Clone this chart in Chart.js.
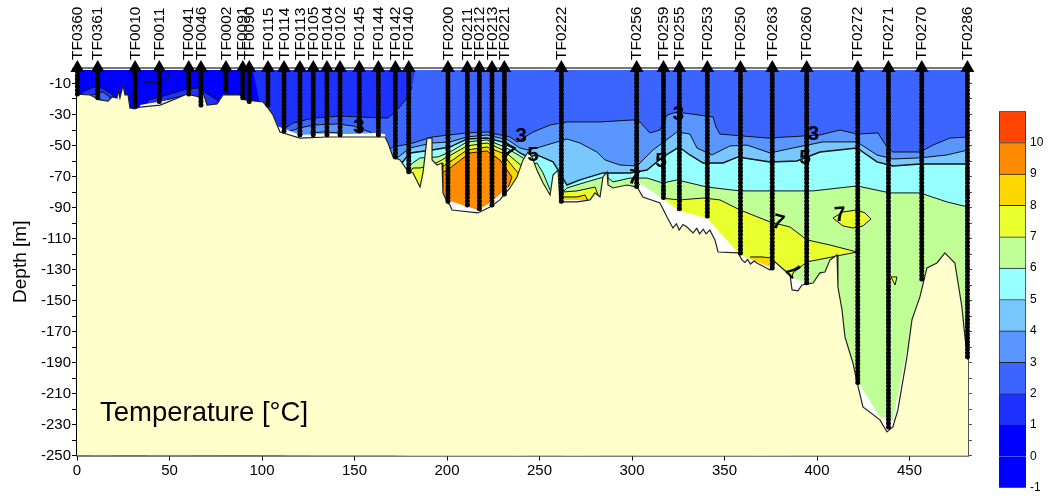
<!DOCTYPE html>
<html>
<head>
<meta charset="utf-8">
<title>Temperature section</title>
<script src="https://cdn.jsdelivr.net/npm/chart.js@4"></script>
<style>
  html, body { margin: 0; padding: 0; background: #fff; overflow: hidden; }
  #wrap { position: relative; width: 1050px; height: 499px; }
  #section { position: absolute; left: 0; top: 0; }
  #colorbar { position: absolute; left: 990px; top: 100px; }
</style>
</head>
<body>
<div id="wrap">
  <canvas id="section" width="1050" height="499"></canvas>
  <canvas id="colorbar" width="60" height="399"></canvas>
</div>
<script>
const stationNames = ['TF0360','TF0361','TF0010','TF0011','TF0041','TF0046','TF0002','TF0091','TF0090','TF0115','TF0114','TF0113','TF0105','TF0104','TF0102','TF0145','TF0144','TF0142','TF0140','TF0200','TF0211','TF0212','TF0213','TF0221','TF0222','TF0256','TF0259','TF0255','TF0253','TF0250','TF0263','TF0260','TF0272','TF0271','TF0270','TF0286'];
const stationX = [0.2,11.2,31.4,44.5,60.4,67,80.5,89.6,93.1,103.2,111.9,120.5,127.7,135.1,142.2,152.6,162.9,172.1,179.3,200.5,211,217.5,224.3,231,261.8,302.5,317,325.6,340.7,358.6,375.8,394.4,422,438.6,456.6,481.3];
const stationBottom = [-16.8,-19.4,-25.8,-21.9,-16.8,-24.5,-15.5,-19.4,-21.9,-25.8,-40.6,-44.5,-43.2,-43.2,-43.2,-41.9,-43.2,-57.4,-67.1,-86.4,-90.3,-92.9,-89.7,-81.9,-86.4,-76.8,-85.1,-91.6,-96.1,-120.6,-130.3,-138.7,-203,-233.5,-138,-187];

// temperature class colours, from -1..0 up to 10..11
const classColors = ['#0000ff','#0000ff','#1e32ff','#3c64ff','#5a96ff','#78c8ff','#96ffff','#c0ff96','#eaff2e','#ffd700','#ff8c00','#ff4500'];
const classTicks = [-1,0,1,2,3,4,5,6,7,8,9,10];

const seabed = [[0,-16.8],[7,-17.4],[10.3,-19.4],[12.4,-20.6],[16.8,-21.3],[18.9,-18.7],[21.6,-19.4],[22.2,-14.2],[23.2,-19.4],[24.9,-11],[25.9,-17.4],[27.6,-17.4],[28.6,-25.8],[31.3,-26.4],[34.1,-25.2],[44.9,-23.9],[51.9,-20.6],[59.5,-16.8],[66.5,-18.7],[68.1,-15.5],[70.3,-23.9],[75.7,-23.2],[78.9,-17.4],[88.1,-17.4],[90.8,-20.6],[100.5,-21.9],[103.2,-25.8],[105.9,-30.3],[109.7,-41.3],[120.5,-45.2],[135.1,-44.5],[149.2,-44.5],[161.1,-44.5],[166.5,-44.5],[168.1,-48.4],[170.8,-57.4],[174.6,-59.3],[178.4,-65.8],[181.6,-67.7],[185.4,-76.8],[187,-67.7],[189.2,-45.2],[191.9,-45.2],[191.9,-59.3],[194.6,-62.6],[197.3,-61.3],[197.8,-80.6],[200,-86.4],[201.6,-88.4],[202.7,-91.6],[216.7,-93.5],[223.2,-89.7],[228.6,-85.1],[234,-77.4],[237.8,-70.3],[241.1,-59.3],[243.8,-54.2],[245.9,-57.4],[248.6,-65.8],[251.9,-74.2],[255.7,-81.9],[257.3,-69],[260,-65.8],[261,-86.4],[270.3,-86.4],[277.3,-85.1],[280,-80.6],[282.7,-83.2],[284.3,-70.3],[286.5,-67.1],[287,-75.5],[289.7,-77.4],[297.3,-75.5],[302.7,-76.8],[305.9,-83.2],[315.1,-87.1],[318.9,-96.1],[322.1,-103.2],[324,-100.5],[325.5,-104.5],[327.5,-101],[329.7,-102.6],[333,-106.4],[335,-103.5],[336.5,-107],[338.5,-104],[340,-107],[342.1,-104.5],[344.8,-110.9],[346.5,-118.7],[357.3,-119.3],[359.4,-123.8],[361,-125.5],[362.5,-123.5],[364,-126.5],[366,-124.5],[367.5,-125.8],[374.6,-130.3],[377.3,-125.1],[381,-129],[385.4,-133.5],[386.5,-143.2],[389.7,-143.8],[391.9,-140],[397.8,-138.7],[401.6,-132.2],[404.3,-131.6],[407,-123.8],[410.8,-120.6],[411.3,-141.3],[413.5,-156.1],[415.1,-173.5],[419.4,-190.3],[421.6,-202.5],[424.8,-218.7],[434,-227],[437.8,-234.8],[441,-231.6],[443.7,-220.6],[448.6,-186.4],[451.3,-162.5],[455.6,-147.7],[459.4,-129],[464.8,-125.8],[469.1,-119.3],[474.5,-125.8],[478.3,-154.2],[480,-174.2],[481.6,-188.3]];

// lower limit of the gridded field, white shows between this and the seabed
const dataFloor = [[0,-40],[33,-40],[34.1,-23.9],[55.7,-19.4],[59.5,-27.1],[104.3,-36.8],[109.7,-38.1],[120.5,-43.2],[135.1,-42.6],[149.2,-42.6],[161.1,-41.9],[166.5,-42.6],[169.2,-65.8],[200,-94.8],[201.6,-85.8],[216.7,-91.6],[223.2,-87.1],[231.3,-78.7],[235.7,-74.2],[238.4,-85.1],[303.2,-85.1],[304.3,-74.2],[325.9,-92.2],[340.5,-96.8],[358.4,-120.6],[374.6,-128.4],[385.4,-134.8],[394.6,-138.7],[401.6,-149.6],[423.2,-204.5],[434,-225.1],[441,-227],[448.6,-181.9],[451.3,-181.9],[481.6,-201.2]];

// isotherms, each is the top of the next warmer class
const surface1 = [[98.4,-20.6],[95.1,-1.3],[481.6,-1.3]];
const iso2 = [[110.8,-40],[116.8,-35.5],[127.6,-32.3],[142.2,-31],[153,-31.6],[168.1,-32.3],[173,-27.1],[178.9,-18.7],[181.1,-12.3]];
const surface2 = [[182.7,-1.3],[481.6,-1.3]];
const iso3 = [[113.5,-41.3],[120.5,-38.7],[127.6,-36.8],[140.5,-36.1],[149.2,-37.4],[158.4,-41.3],[163.8,-46.4],[168.1,-52.9],[170.8,-51],[181.6,-48.4],[191.9,-44.5],[210.8,-41.9],[221.6,-41.3],[234,-44.5],[237.8,-47.7],[246.5,-41.3],[255.7,-36.8],[264.8,-34.8],[282.7,-34.8],[300.5,-33.5],[304.3,-34.8],[309.7,-41.9],[315.1,-40],[318.9,-30.3],[324.3,-28.4],[343.8,-31.6],[345.4,-38.1],[347.5,-42.6],[360,-43.9],[373.5,-45.2],[392.4,-43.9],[401.6,-43.2],[412.4,-40],[421.6,-42.6],[432.9,-41.9],[437.8,-51],[441,-54.2],[455.6,-54.2],[462.7,-49.7],[471.8,-45.2],[481.6,-44.5]];
const iso4 = [[125.9,-41.9],[133,-41.3],[142.2,-41.9],[147.6,-45.2],[169.2,-62.6],[173,-58],[180,-51.6],[191.9,-48.4],[201.6,-47.7],[210.8,-44.5],[221.6,-43.2],[233,-46.4],[239.4,-51.6],[243.8,-52.9],[250.2,-51],[264.8,-45.8],[271.9,-48.4],[281,-54.2],[285.4,-59.3],[293.5,-62.6],[302.7,-63.2],[311.3,-52.9],[324.3,-41.3],[331.3,-42.6],[335.1,-51.6],[343.2,-56.1],[352.9,-50.3],[362.1,-49.7],[374.6,-54.8],[387,-51.6],[403.2,-47.7],[421.6,-47.7],[432.4,-56.1],[441,-58.7],[455.6,-58],[470.2,-56.1],[481.6,-52.9]];
const iso5 = [[172,-67.1],[174.6,-62.6],[180,-54.8],[191.9,-52.9],[201.6,-51],[210.8,-45.8],[221.6,-45.2],[232.4,-48.4],[239.4,-54.8],[243.8,-57.4],[248.6,-56.1],[257.3,-60.6],[261,-67.7],[264.8,-75.5],[271.9,-72.2],[284.3,-67.7],[298.9,-67.7],[308.1,-65.8],[316.7,-57.4],[325.4,-51],[331.3,-56.1],[338.4,-61.3],[349.2,-61.3],[357.3,-57.4],[374.6,-60.6],[389.1,-60],[401.6,-54.2],[421.6,-51.6],[432.4,-60.6],[441,-63.2],[455.6,-61.9],[481.6,-61.9]];
const iso6 = [[176.2,-67.1],[180,-62.6],[185.4,-58],[195.1,-57.4],[201.6,-54.2],[210.8,-47.7],[221.6,-46.4],[231.3,-51],[241.1,-58],[244.9,-62.6],[248.6,-61.3],[251.9,-67.7],[255.7,-78.7],[261,-81.9],[264.8,-77.4],[271.9,-74.8],[282.7,-71],[286.5,-70.3],[289.7,-73.5],[298.9,-71],[308.1,-71],[316.7,-74.2],[324.3,-72.2],[340.5,-76.8],[358.4,-79.3],[374.6,-79.3],[397.8,-79.3],[421.6,-76.1],[439.4,-80.6],[455.6,-80.6],[470.2,-86.4],[481.6,-89.7]];
const iso7West = [[178.9,-69],[181.6,-64.5],[185.4,-64.5],[191.9,-62.6],[197.3,-59.3],[210.8,-50.3],[221.6,-48.4],[230.3,-52.9],[238.4,-61.3],[241.1,-63.9],[243.8,-69]];
const iso7Dip = [[262.7,-80],[270.3,-79.3],[280,-76.8],[282.7,-85.1]];
const iso7East = [[302.7,-73.5],[304.3,-75.5],[315.1,-83.9],[325.9,-85.1],[338.4,-83.9],[347.5,-85.1],[358.4,-91.6],[374.6,-99.3],[385.4,-102.6],[394.6,-110.9],[407,-114.2],[421.6,-118.7],[410.8,-121.3],[394.6,-125.1],[387,-132.2],[385.4,-143.2]];
const iso7Lens = [[408.6,-96.8],[414,-92.9],[421.6,-91.6],[425.9,-93.5],[429.2,-97.4],[424.8,-101.9],[419.4,-103.2],[414,-101.9],[408.6,-96.8]];
const iso7Speck = [[440,-134.8],[443.2,-134.8],[442.2,-140],[440,-134.8]];
const iso8West = [[197.3,-63.9],[201.6,-60.6],[210.8,-52.9],[221.6,-51],[229.7,-54.8],[235.7,-63.9],[238.4,-67.7],[240.5,-78.7]];
const iso8Dip = [[262.7,-83.2],[270.3,-83.2],[274.6,-81.9],[277.3,-88.4]];
const iso8East = [[363.8,-121.9],[370.2,-121.9],[375.1,-122.6],[375.7,-130.3]];
const iso9 = [[197.3,-67.7],[201.6,-64.5],[212.4,-54.8],[221.6,-53.5],[228.6,-59.3],[235.1,-70.3],[233,-77.4],[235.7,-81.9]];

// shallow pockets at the west end of the section
const westLensA1 = [[3.2,-15.5],[8.6,-12.3],[13.5,-12.9],[19.5,-17.4],[21.1,-27]];
const westLensA2 = [[8.1,-17.4],[14.1,-15.5],[17.8,-18.7],[18.9,-24]];
const westLensB1 = [[37.8,-22.6],[38.4,-20.6],[48.6,-17.4],[59.5,-13.5],[64.9,-12.9],[68.1,-14.8],[75.7,-20.6],[77.3,-27]];
const westLensB2 = [[37.8,-24.5],[51.9,-19.4],[59.5,-17.4],[62.2,-20.6]];
const westContour = [[29.7,-2.6],[35.7,-9],[44.9,-9.7],[49.2,-6.5],[50.3,-1.3]];

// x, depth, text, rotation in degrees
const contourLabels = [[152.4,-38,'3',0],[240,-44,'3',0],[325,-30,'3',0],[398,-42.5,'3',0],[246.5,-56,'5',0],[315.7,-60,'5',0],[393.5,-58,'5',0],[233,-55,'7',25],[301,-71,'7',10],[379,-100,'7',15],[412.4,-95,'7',-5],[388,-130,'7',-135]];
const plotTitle = 'Temperature [°C]';
const axisTitle = 'Depth [m]';
const depthTicks = [-10,-30,-50,-70,-90,-110,-130,-150,-170,-190,-210,-230,-250];

const XMAX = 481.6;
const toXY = pts => pts.map(p => ({x: p[0], y: p[1]}));

const datasets = [];
function pushDs(ds) {
    ds.order = -datasets.length; // later ones draw on top
    datasets.push(Object.assign({showLine: true, pointRadius: 0, borderWidth: 0, tension: 0}, ds));
}
// filled down to the axis floor, the seabed hides what is below
function region(pts, color) {
    const first = pts[0][0], last = pts[pts.length - 1][0];
    pushDs({data: toXY(pts.concat([[last,-250],[first,-250],pts[0]])), fill: 'shape', backgroundColor: color, borderColor: color});
}
function contour(pts, width) {
    pushDs({data: toXY(pts), fill: false, borderColor: '#111', borderWidth: width || 1});
}
function closed(pts, color) {
    pushDs({data: toXY(pts), fill: 'shape', backgroundColor: color, borderColor: '#111', borderWidth: 1});
}

region([[0,-1.3],[XMAX,-1.3]], classColors[1]);
region(westLensA1, classColors[2]); contour(westLensA1);
region(westLensA2, classColors[3]); contour(westLensA2);
region(westLensB1, classColors[2]); contour(westLensB1);
region(westLensB2, classColors[3]); contour(westLensB2);
contour(westContour);
region(surface1, classColors[2]);
region(iso2.concat(surface2), classColors[3]); contour(iso2);
region(iso3, classColors[4]); contour(iso3);
region(iso4, classColors[5]); contour(iso4);
region(iso5, classColors[6]); contour(iso5, 1.4);
region(iso6, classColors[7]); contour(iso6);
region(iso7West, classColors[8]); contour(iso7West);
region(iso7Dip, classColors[8]); contour(iso7Dip);
region(iso7East, classColors[8]); contour(iso7East);
closed(iso7Lens, classColors[8]);
closed(iso7Speck, classColors[8]);
region(iso8West, classColors[9]); contour(iso8West);
region(iso8Dip, classColors[9]); contour(iso8Dip);
region(iso8East, classColors[9]); contour(iso8East);
region(iso9, classColors[10]); contour(iso9);
region(dataFloor, '#ffffff');
pushDs({data: toXY(seabed.concat([[XMAX,-250],[0,-250],seabed[0]])), fill: 'shape', backgroundColor: '#ffffcc', borderWidth: 0});
pushDs({data: toXY(seabed), fill: false, borderColor: '#222', borderWidth: 1.2});

stationX.forEach((x, i) => {
    pushDs({
        data: [{x: x, y: 0}, {x: x, y: stationBottom[i]}],
        fill: false, clip: false,
        borderColor: '#000', borderWidth: 5, borderDash: [0.1, 3.6], borderCapStyle: 'round',
        pointRadius: [8, 0], pointStyle: 'triangle', pointBackgroundColor: '#000', pointBorderWidth: 0
    });
});

const sectionText = {
    id: 'sectionText',
    afterDatasetsDraw(chart) {
        const {ctx, scales} = chart;
        ctx.save();
        ctx.fillStyle = '#000';
        ctx.textAlign = 'center';
        ctx.textBaseline = 'middle';
        ctx.font = 'bold 21px "Liberation Sans", Arial, sans-serif';
        contourLabels.forEach(l => {
            ctx.save();
            ctx.translate(scales.x.getPixelForValue(l[0]), scales.y.getPixelForValue(l[1]));
            ctx.rotate(l[3] * Math.PI / 180);
            ctx.fillText(l[2], 0, 0);
            ctx.restore();
        });
        ctx.textAlign = 'left';
        ctx.textBaseline = 'alphabetic';
        ctx.font = '27.5px "Liberation Sans", Arial, sans-serif';
        ctx.fillText(plotTitle, scales.x.getPixelForValue(12.4), scales.y.getPixelForValue(-227.6));
        ctx.translate(26, scales.y.getPixelForValue(-125));
        ctx.rotate(-Math.PI / 2);
        ctx.textAlign = 'center';
        ctx.font = '19px "Liberation Sans", Arial, sans-serif';
        ctx.fillText(axisTitle, 0, 0);
        ctx.restore();
    }
};

const tickFont = {family: '"Liberation Sans", Arial, sans-serif', size: 15};

new Chart(document.getElementById('section'), {
    type: 'scatter',
    data: {datasets: datasets},
    plugins: [sectionText],
    options: {
        responsive: false, animation: false, events: [],
        layout: {padding: 0},
        plugins: {legend: {display: false}, tooltip: {enabled: false}},
        scales: {
            x: {
                min: 0, max: XMAX, position: 'bottom',
                afterFit: s => { s.height = 43.5; },
                border: {color: '#000', width: 1.5},
                grid: {drawOnChartArea: false, tickLength: 5, color: '#000'},
                ticks: {stepSize: 50, includeBounds: false, color: '#000', font: tickFont, maxRotation: 0, padding: 1}
            },
            xTop: {
                type: 'linear', min: 0, max: XMAX, position: 'top',
                afterFit: s => { s.height = 68; },
                afterBuildTicks: s => { s.ticks = stationX.map(v => ({value: v})); },
                border: {color: '#777', width: 2},
                grid: {drawOnChartArea: false, drawTicks: false},
                ticks: {
                    autoSkip: false, minRotation: 90, maxRotation: 90, padding: 8, labelOffset: 19, color: '#000',
                    font: {family: tickFont.family, size: 15.5},
                    callback: v => stationNames[stationX.indexOf(v)]
                }
            },
            y: {
                min: -250, max: 0, position: 'left',
                afterFit: s => { s.width = 77; },
                border: {color: '#000', width: 1.5},
                grid: {drawOnChartArea: false, tickLength: 5, color: '#000'},
                ticks: {
                    stepSize: 10, autoSkip: false, color: '#000', font: tickFont, padding: 1,
                    callback: v => depthTicks.includes(v) ? String(v) : ''
                }
            },
            y2: {
                type: 'linear', min: -250, max: 0, position: 'right',
                afterFit: s => { s.width = 82; },
                border: {color: '#555', width: 1},
                grid: {drawOnChartArea: false, tickLength: 4, color: '#555'},
                ticks: {stepSize: 10, autoSkip: false, callback: () => ''}
            }
        }
    }
});

new Chart(document.getElementById('colorbar'), {
    type: 'bar',
    data: {
        labels: [''],
        datasets: classColors.map((c, i) => ({
            data: [[classTicks[i], classTicks[i] + 1]],
            backgroundColor: c, borderColor: '#222', borderWidth: 1,
            grouped: false, barPercentage: 1, categoryPercentage: 1
        }))
    },
    options: {
        responsive: false, animation: false, events: [],
        layout: {padding: {left: 9, top: 11, bottom: 7}},
        plugins: {legend: {display: false}, tooltip: {enabled: false}},
        scales: {
            x: {display: false},
            y: {
                position: 'right', min: -1, max: 11,
                afterFit: s => { s.width = 24; },
                border: {display: false},
                grid: {display: false, drawTicks: false},
                ticks: {
                    stepSize: 1, padding: 4, color: '#000',
                    font: {family: tickFont.family, size: 12},
                    callback: v => classTicks.includes(v) ? String(v) : ''
                }
            }
        }
    }
});
</script>
</body>
</html>
